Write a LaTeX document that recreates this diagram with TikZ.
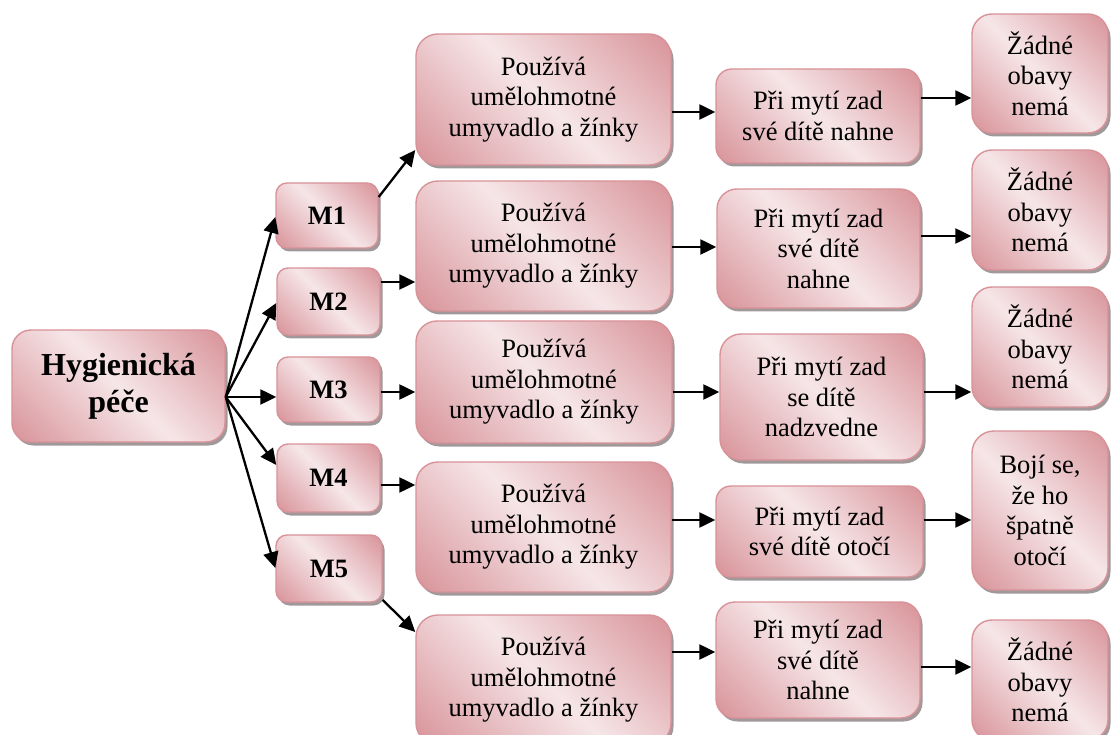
\documentclass[tikz,border=0pt]{standalone}
\usepackage{fontspec}
\setmainfont{Liberation Serif}
\usetikzlibrary{shadows,arrows.meta}

\definecolor{pkdark}{RGB}{215,145,151}
\definecolor{pklight}{RGB}{246,230,232}
\definecolor{pkline}{RGB}{216,146,152}
\definecolor{shadowgrey}{RGB}{160,152,153}

% diagonal "light variation" fill: dark corners, light band across
\pgfdeclarehorizontalshading{pinkdiag}{100bp}{%
  color(0bp)=(pkdark); color(14bp)=(pkdark); color(50bp)=(pklight);
  color(86bp)=(pkdark); color(100bp)=(pkdark)}

\tikzset{
  box/.style={rectangle, draw=pkline, line width=1.4pt,
    shading=pinkdiag, shading angle=45, inner sep=0pt, align=center,
    font=\fontsize{26.5}{30.5}\selectfont,
    drop shadow={shadow xshift=2.5pt, shadow yshift=-3.5pt,
      fill=shadowgrey, opacity=1}},
  sz/.style n args={3}{minimum width=#1pt, minimum height=#2pt,
    rounded corners=#3pt},
  arr/.style={line width=2.3pt, -{Triangle[length=16pt,width=15pt]}},
}

\begin{document}
\begin{tikzpicture}[x=1pt, y=-1pt]
\useasboundingbox (0,0) rectangle (1114,735);

% root
\node[box, sz={213}{112}{19}, font=\fontsize{32}{37}\selectfont\bfseries]
  (H) at (118.5,386) {Hygienická\\péče};

% mothers
\node[box, sz={102}{65}{11}, font=\fontsize{26.5}{30.5}\selectfont\bfseries] (M1) at (327,215.5) {M1};
\node[box, sz={103}{67}{11}, font=\fontsize{26.5}{30.5}\selectfont\bfseries] (M2) at (328.5,301.5) {M2};
\node[box, sz={103}{65}{11}, font=\fontsize{26.5}{30.5}\selectfont\bfseries] (M3) at (328.5,389.5) {M3};
\node[box, sz={103}{68}{11}, font=\fontsize{26.5}{30.5}\selectfont\bfseries] (M4) at (328.5,478) {M4};
\node[box, sz={106}{67}{11}, font=\fontsize{26.5}{30.5}\selectfont\bfseries] (M5) at (329,568.5) {M5};

% aids used
\node[box, sz={255}{131}{22}] (U1) at (543.5,99.5) {Používá\\umělohmotné\\umyvadlo a žínky};
\node[box, sz={255}{130}{22}] (U2) at (543.5,246) {Používá\\umělohmotné\\umyvadlo a žínky};
\node[box, sz={256}{122}{21}] (U3) at (544,382) {Používá\\umělohmotné\\umyvadlo a žínky};
\node[box, sz={255}{130}{22}] (U4) at (543.5,527) {Používá\\umělohmotné\\umyvadlo a žínky};
\node[box, sz={255}{130}{22}] (U5) at (543.5,680) {Používá\\umělohmotné\\umyvadlo a žínky};

% washing the back
\node[box, sz={204}{94}{16}] (P1) at (818,116) {Při mytí zad\\své dítě nahne};
\node[box, sz={203}{119}{20}] (P2) at (818.5,248.5) {Při mytí zad\\své dítě\\nahne};
\node[box, sz={203}{126}{21}] (P3) at (821.5,397) {Při mytí zad\\se dítě\\nadzvedne};
\node[box, sz={207}{91}{15}] (P4) at (819.5,531.5) {Při mytí zad\\své dítě otočí};
\node[box, sz={204}{116}{19}] (P5) at (818,660) {Při mytí zad\\své dítě\\nahne};

% worries
\node[box, sz={136}{119}{20}] (Z1) at (1040,73.5) {Žádné\\obavy\\nemá};
\node[box, sz={136}{120}{20}] (Z2) at (1040,210) {Žádné\\obavy\\nemá};
\node[box, sz={136}{120}{20}] (Z3) at (1040,347) {Žádné\\obavy\\nemá};
\node[box, sz={136}{159}{22}] (Z4) at (1040,510.5) {Bojí se,\\že ho\\špatně\\otočí};
\node[box, sz={136}{120}{20}] (Z5) at (1040,680) {Žádné\\obavy\\nemá};

% fan out from the root
\coordinate (hub) at (H.east |- 0,397);
\draw[arr] (hub) -- (M1.west |- 0,217);
\draw[arr] (hub) -- (M2.west |- 0,303);
\draw[arr] (hub) -- (M3.west |- 0,397);
\draw[arr] (hub) -- (M4.west |- 0,465);
\draw[arr] (hub) -- (M5.west |- 0,568);

% mothers to aids
\draw[arr] (M1.east |- 0,197) -- (U1.west |- 0,150);
\draw[arr] (M2.east |- 0,282) -- (U2.west |- 0,282);
\draw[arr] (M3.east |- 0,392) -- (U3.west |- 0,392);
\draw[arr] (M4.east |- 0,485) -- (U4.west |- 0,485);
\draw[arr] (M5.east |- 0,600) -- (U5.west |- 0,632);

% aids to washing
\draw[arr] (U1.east |- 0,112) -- (P1.west |- 0,112);
\draw[arr] (U2.east |- 0,247) -- (P2.west |- 0,247);
\draw[arr] (U3.east |- 0,392) -- (P3.west |- 0,392);
\draw[arr] (U4.east |- 0,520) -- (P4.west |- 0,520);
\draw[arr] (U5.east |- 0,652) -- (P5.west |- 0,652);

% washing to worries
\draw[arr] (P1.east |- 0,98) -- (Z1.west |- 0,98);
\draw[arr] (P2.east |- 0,236) -- (Z2.west |- 0,236);
\draw[arr] (P3.east |- 0,392) -- (Z3.west |- 0,392);
\draw[arr] (P4.east |- 0,520) -- (Z4.west |- 0,520);
\draw[arr] (P5.east |- 0,667) -- (Z5.west |- 0,667);
\end{tikzpicture}
\end{document}
